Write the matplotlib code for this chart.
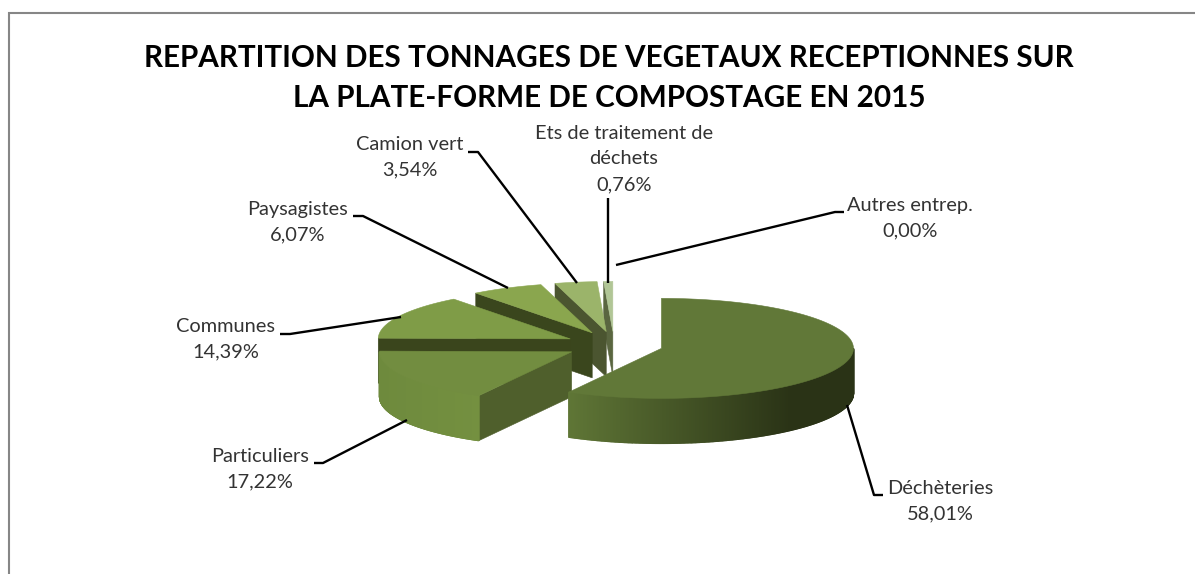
import numpy as np
import matplotlib
matplotlib.use("Agg")
import matplotlib.pyplot as plt
from matplotlib.colors import to_rgb
from matplotlib.patches import Polygon

labels = ["Déchèteries", "Particuliers", "Communes", "Paysagistes",
          "Camion vert", "Ets de traitement de\ndéchets", "Autres entrep."]
values = [58.01, 17.22, 14.39, 6.07, 3.54, 0.76, 0.00]
value_text = ["58,01%", "17,22%", "14,39%", "6,07%", "3,54%", "0,76%", "0,00%"]
title = "REPARTITION DES TONNAGES DE VEGETAUX RECEPTIONNES SUR\nLA PLATE-FORME DE COMPOSTAGE EN 2015"

top_colors = ["#617838", "#728D40", "#7F9C47", "#8AA64E", "#9BB46A", "#B1C696"]
cut_colors = ["#4A5A2A", "#4F5F2C", "#3A451C", "#3A461D", "#4B5530", "#5A6640"]
rim_left = ["#2A3316", "#6E8A3D", "#3A451C", "#3A461D", "#4B5530", "#5A6640"]
rim_right = ["#5F7636", "#749040", "#3A451C", "#3A461D", "#4B5530", "#5A6640"]

# layout, in pixels of the 1195x574 picture
W, H = 1195, 574
CX, CY, RX, RY, DEPTH, EXPLODE, K = 614, 345, 192, 50, 45, 49, 0.277
label_xy = [(940, 501), (260, 469), (226, 339), (298, 222), (410, 157.5), (624, 159), (910, 218)]
leaders = [[(847, 405), (874, 495), (883, 495)],
           [(407, 420), (323, 463), (314, 463)],
           [(401, 317), (290, 334), (280, 334)],
           [(508, 288), (363, 216), (353, 216)],
           [(577, 283), (478, 152), (468, 152)],
           [(608, 283), (608, 198)],
           [(616, 265), (835, 212), (844, 212)]]

fig = plt.figure(figsize=(W / 100, H / 100), dpi=100)
ax = fig.add_axes([0, 0, 1, 1])
ax.set_xlim(0, W)
ax.set_ylim(H, 0)
ax.axis("off")
plt.rcParams["font.family"] = ["Lato", "DejaVu Sans"]

ax.plot([9, 9, W], [H, 13, 13], color="#868686", lw=1.5, solid_joinstyle="miter")

fractions = np.array(values) / sum(values) * 360
starts = np.concatenate(([0], np.cumsum(fractions)[:-1]))


def wedge_geometry(i):
    a0 = np.radians(starts[i])
    a1 = np.radians(starts[i] + fractions[i])
    mid = (a0 + a1) / 2
    cx = CX + EXPLODE * np.sin(mid)
    cy = CY - EXPLODE * K * np.cos(mid)
    return a0, a1, cx, cy


def rim_point(cx, cy, a):
    return cx + RX * np.sin(a), cy - RY * np.cos(a)


def draw_wedge(i):
    a0, a1, cx, cy = wedge_geometry(i)
    x0, y0 = rim_point(cx, cy, a0)
    if i != 0:
        ax.add_patch(Polygon([(cx, cy), (x0, y0), (x0, y0 + DEPTH), (cx, cy + DEPTH)],
                             fc=cut_colors[i], ec=cut_colors[i], lw=0.4))
    lo, hi = max(a0, np.pi / 2), min(a1, 3 * np.pi / 2)
    if hi > lo:
        steps = np.linspace(lo, hi, 300)
        xs, ys = rim_point(cx, cy, steps)
        c_l, c_r = np.array(to_rgb(rim_left[i])), np.array(to_rgb(rim_right[i]))
        for j in range(len(steps) - 1):
            if i == 0:
                t = np.clip((790 - xs[j]) / (790 - xs.min()), 0, 1)
            else:
                t = (xs[j] - xs.min()) / (xs.max() - xs.min())
            col = c_l + (c_r - c_l) * t
            ax.add_patch(Polygon([(xs[j], ys[j]), (xs[j + 1], ys[j + 1]),
                                  (xs[j + 1], ys[j + 1] + DEPTH), (xs[j], ys[j] + DEPTH)],
                                 fc=col, ec=col, lw=1.0))
    ang = np.linspace(a0, a1, 120)
    xs, ys = rim_point(cx, cy, ang)
    ax.add_patch(Polygon(np.vstack(([(cx, cy)], np.column_stack((xs, ys)))),
                         fc=top_colors[i], ec=top_colors[i], lw=0.4))


for i in [5, 4, 3, 2, 1, 0]:
    draw_wedge(i)

for pts in leaders:
    p = np.array(pts)
    ax.plot(p[:, 0], p[:, 1], color="black", lw=1.7, solid_capstyle="butt")

for lab, val, (x, y) in zip(labels, value_text, label_xy):
    ax.text(x, y, lab + "\n" + val, ha="center", va="center", fontsize=14.4,
            color="#333333", linespacing=1.62)

ax.text(609, 78, title, ha="center", va="center", fontsize=21.3, fontweight="bold",
        color="black", linespacing=1.5)

fig.savefig("out.png", dpi=100)
